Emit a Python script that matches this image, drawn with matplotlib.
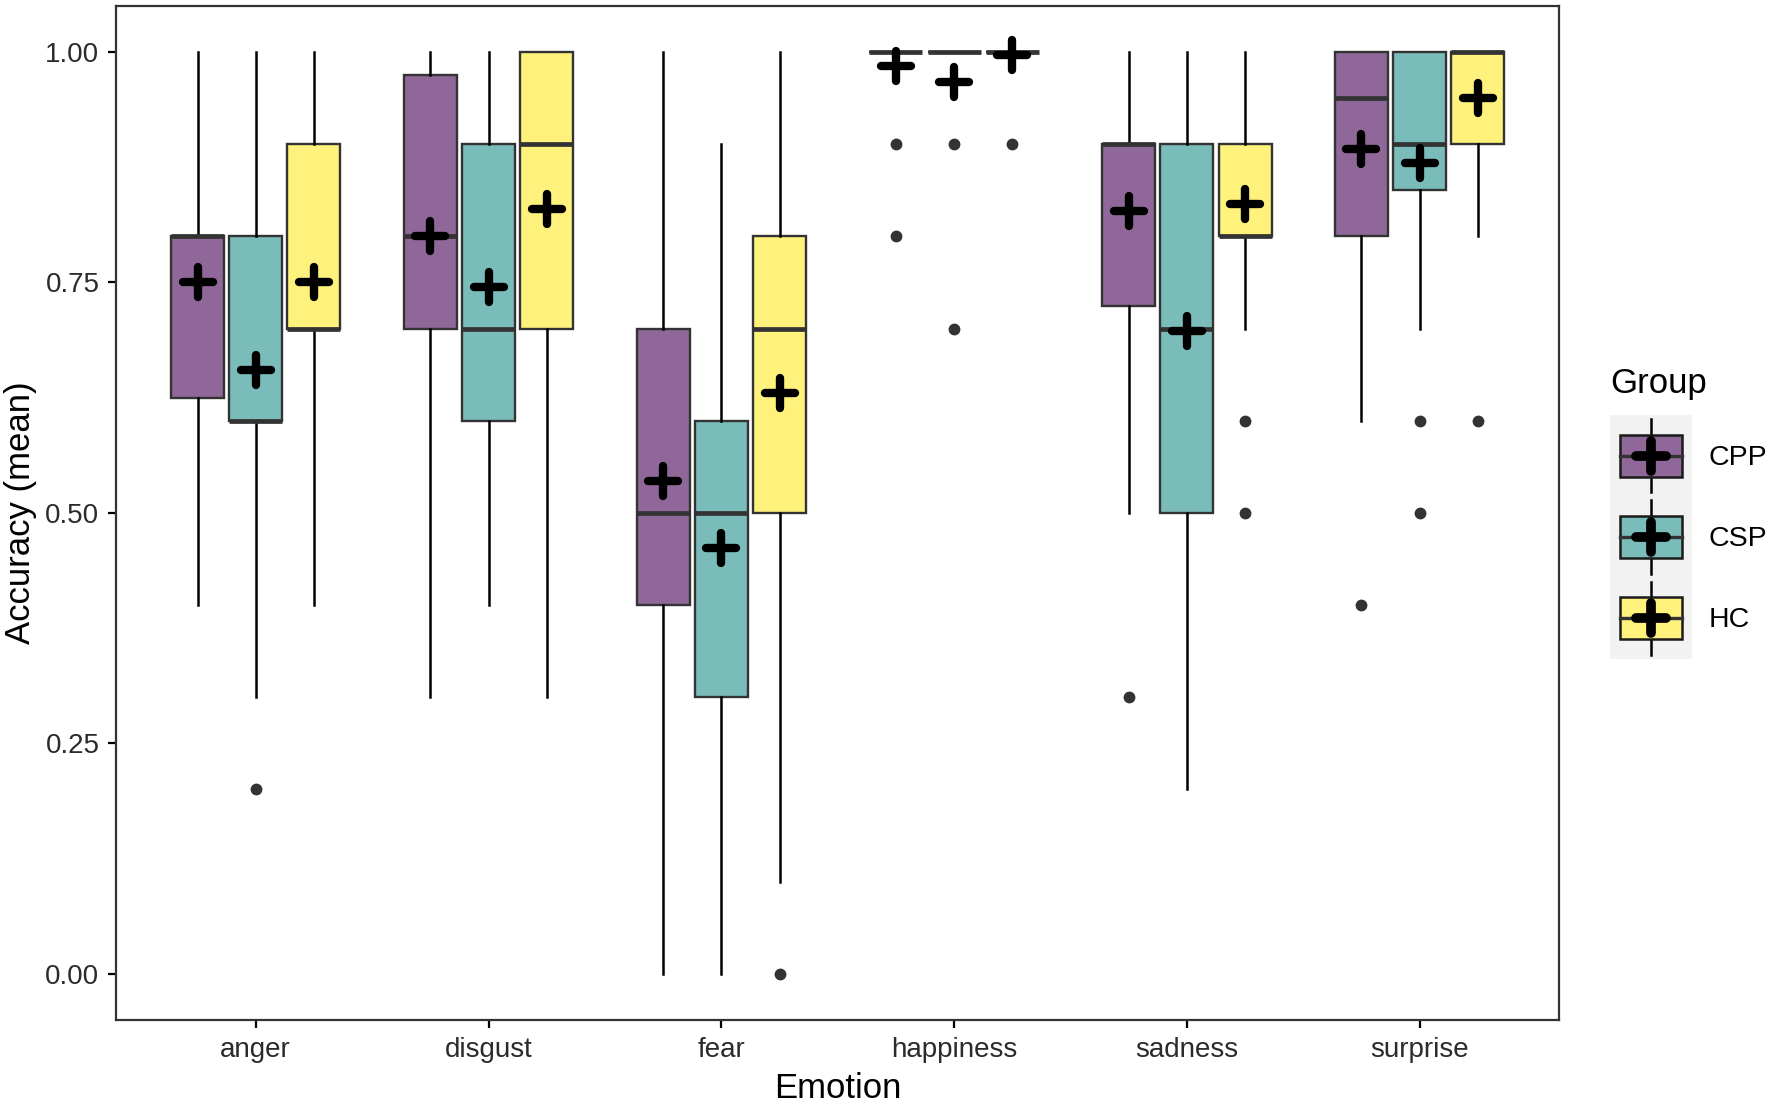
import matplotlib
matplotlib.use("Agg")
import matplotlib.pyplot as plt
from matplotlib.markers import MarkerStyle
from matplotlib.patches import Rectangle

plt.rcParams["font.family"] = ["Liberation Sans", "DejaVu Sans"]

emotions = ["anger", "disgust", "fear", "happiness", "sadness", "surprise"]
groups = ["CPP", "CSP", "HC"]
colors = {"CPP": "#8F6798", "CSP": "#7ABCBA", "HC": "#FEF17C"}

# per group: one value per emotion
whislo = {
    "CPP": [0.4, 0.3, 0.0, 1.0, 0.5, 0.6],
    "CSP": [0.3, 0.4, 0.0, 1.0, 0.2, 0.7],
    "HC": [0.4, 0.3, 0.1, 1.0, 0.7, 0.8],
}
q1 = {
    "CPP": [0.625, 0.7, 0.4, 1.0, 0.725, 0.8],
    "CSP": [0.6, 0.6, 0.3, 1.0, 0.5, 0.85],
    "HC": [0.7, 0.7, 0.5, 1.0, 0.8, 0.9],
}
med = {
    "CPP": [0.8, 0.8, 0.5, 1.0, 0.9, 0.95],
    "CSP": [0.6, 0.7, 0.5, 1.0, 0.7, 0.9],
    "HC": [0.7, 0.9, 0.7, 1.0, 0.8, 1.0],
}
q3 = {
    "CPP": [0.8, 0.975, 0.7, 1.0, 0.9, 1.0],
    "CSP": [0.8, 0.9, 0.6, 1.0, 0.9, 1.0],
    "HC": [0.9, 1.0, 0.8, 1.0, 0.9, 1.0],
}
whishi = {
    "CPP": [1.0, 1.0, 1.0, 1.0, 1.0, 1.0],
    "CSP": [1.0, 1.0, 0.9, 1.0, 1.0, 1.0],
    "HC": [1.0, 1.0, 1.0, 1.0, 1.0, 1.0],
}
means = {
    "CPP": [0.75, 0.80, 0.535, 0.985, 0.828, 0.895],
    "CSP": [0.655, 0.745, 0.462, 0.968, 0.697, 0.88],
    "HC": [0.75, 0.83, 0.63, 0.997, 0.835, 0.95],
}
outliers = {
    "CPP": [[], [], [], [0.9, 0.8], [0.3], [0.4]],
    "CSP": [[0.2], [], [], [0.9, 0.7], [], [0.6, 0.5]],
    "HC": [[], [], [0.0], [0.9], [0.6, 0.5], [0.6]],
}

DODGE = 0.25
WIDTH = 0.228
EDGE = "#333333"
PLUS = MarkerStyle("+", capstyle="round")

fig = plt.figure(figsize=(17.72, 11.05), dpi=100)
ax = fig.add_axes([0.0655, 0.077, 0.8145, 0.9176])

for gi, g in enumerate(groups):
    stats = []
    for ei in range(len(emotions)):
        stats.append({
            "whislo": whislo[g][ei], "q1": q1[g][ei], "med": med[g][ei],
            "q3": q3[g][ei], "whishi": whishi[g][ei], "fliers": outliers[g][ei],
        })
    pos = [i + 1 + (gi - 1) * DODGE for i in range(len(emotions))]
    ax.bxp(stats, positions=pos, widths=WIDTH, patch_artist=True, showcaps=False,
           boxprops=dict(facecolor=colors[g], edgecolor=EDGE, linewidth=1.7),
           medianprops=dict(color=EDGE, linewidth=3.4, solid_capstyle="butt"),
           whiskerprops=dict(color="black", linewidth=1.8),
           flierprops=dict(marker="o", markerfacecolor=EDGE, markeredgecolor=EDGE,
                           markersize=7.5),
           zorder=2)
    ax.plot(pos, means[g], linestyle="none", marker=PLUS, color="black",
            markersize=21, markeredgewidth=6, zorder=4)

ax.set_xlim(0.4, 6.6)
ax.set_ylim(-0.05, 1.05)
ax.set_xticks(range(1, len(emotions) + 1))
ax.set_xticklabels(emotions)
ax.set_yticks([0, 0.25, 0.5, 0.75, 1.0])
ax.set_yticklabels(["0.00", "0.25", "0.50", "0.75", "1.00"])
ax.tick_params(direction="out", length=6, width=1.6, labelsize=20, colors="black",
               labelcolor="#2b2b2b", pad=6)
for s in ax.spines.values():
    s.set_linewidth(1.6)
    s.set_color("#333333")
ax.set_xlabel("Emotion", fontsize=25, labelpad=7)
ax.set_ylabel("Accuracy (mean)", fontsize=25, labelpad=6)

# legend drawn in its own small axes, ggplot style keys
lax = fig.add_axes([1610 / 1772, 1 - 659 / 1105, 82 / 1772, 244 / 1105])
lax.set_xlim(0, 1)
lax.set_ylim(0, 3)
lax.set_facecolor("#F2F2F2")
lax.set_xticks([])
lax.set_yticks([])
for s in lax.spines.values():
    s.set_visible(False)
for gi, g in enumerate(groups):
    yc = 2.5 - gi
    lax.plot([0.5, 0.5], [yc - 0.45, yc + 0.45], color="black", lw=1.8, zorder=1)
    lax.add_patch(Rectangle((0.12, yc - 0.26), 0.76, 0.52, facecolor=colors[g],
                            edgecolor="#1a1a1a", lw=1.8, zorder=2))
    lax.plot([0.12, 0.88], [yc, yc], color=EDGE, lw=2.4, zorder=3)
    lax.plot([0.5], [yc], marker=PLUS, color="black", markersize=22,
             markeredgewidth=7, zorder=4)
    fig.text(1709 / 1772, 1 - (458 + gi * 81) / 1105, g, fontsize=20.5,
             va="center", ha="left", color="black")
fig.text(1610 / 1772, 1 - 384 / 1105, "Group", fontsize=25, va="center", ha="left")

fig.savefig("out.png", dpi=100)
